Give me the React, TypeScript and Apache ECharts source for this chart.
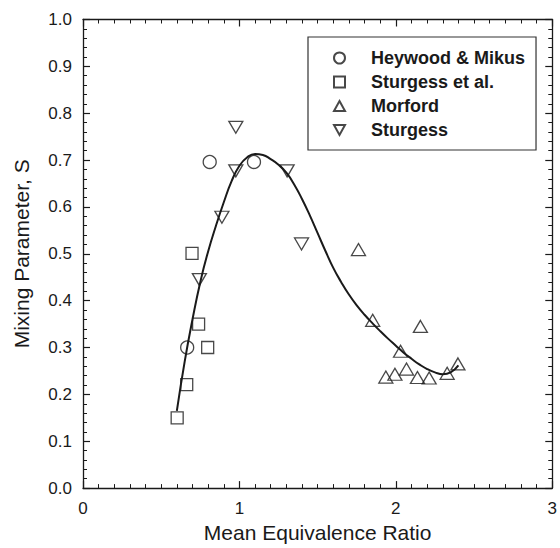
import React, { useEffect, useRef } from "react";
import * as echarts from "echarts";

const heywoodX = [0.666, 0.81, 1.093];
const heywoodY = [0.30, 0.696, 0.696];

const sturgessEtAlX = [0.602, 0.663, 0.739, 0.797, 0.697];
const sturgessEtAlY = [0.150, 0.221, 0.350, 0.300, 0.501];

const morfordX = [1.761, 1.852, 2.157, 2.03, 1.936, 1.994, 2.068, 2.138, 2.213, 2.328, 2.397];
const morfordY = [0.509, 0.358, 0.345, 0.292, 0.237, 0.243, 0.254, 0.236, 0.235, 0.245, 0.265];

const sturgessX = [0.977, 0.977, 0.888, 0.744, 1.305, 1.397];
const sturgessY = [0.770, 0.677, 0.578, 0.445, 0.677, 0.521];

const curveX = [0.60, 0.65, 0.70, 0.75, 0.80, 0.85, 0.90, 0.95, 1.00, 1.05, 1.10, 1.15, 1.20, 1.25, 1.30, 1.35, 1.40, 1.45, 1.50, 1.55, 1.60, 1.65, 1.70, 1.75, 1.80, 1.85, 1.90, 1.95, 2.00, 2.05, 2.10, 2.15, 2.20, 2.25, 2.30, 2.35, 2.40];
const curveY = [0.165, 0.27, 0.36, 0.44, 0.505, 0.56, 0.61, 0.655, 0.688, 0.706, 0.713, 0.711, 0.702, 0.690, 0.673, 0.648, 0.617, 0.582, 0.544, 0.506, 0.470, 0.440, 0.413, 0.390, 0.370, 0.352, 0.335, 0.319, 0.304, 0.289, 0.276, 0.264, 0.254, 0.247, 0.243, 0.247, 0.262];

const xTicks = ["0", "1", "2", "3"];
const seriesNames = ["Heywood & Mikus", "Sturgess et al.", "Morford", "Sturgess"];

const zip = (xs: number[], ys: number[]) => xs.map((x, i) => [x, ys[i]]);

const FONT = "Liberation Sans, Arial, sans-serif";
const INK = "#1a1a1a";

export default function App() {
  const ref = useRef<HTMLDivElement>(null);
  useEffect(() => {
    if (!ref.current) return;
    const chart = echarts.init(ref.current, undefined, { renderer: "svg" });
    const markerStyle = {
      color: "rgba(255,255,255,0)",
      borderColor: INK,
      borderWidth: 1.3,
    };
    const axisLine = { show: true, onZero: false, lineStyle: { color: INK, width: 1.3 } };
    const xBase = {
      type: "value" as const,
      min: 0,
      max: 3,
      interval: 1,
      axisLine,
      axisTick: { show: true, inside: true, length: 7, lineStyle: { color: INK, width: 1.2 } },
      minorTick: { show: true, splitNumber: 10, length: 4, lineStyle: { color: INK, width: 1 } },
      splitLine: { show: false },
    };
    const yBase = {
      type: "value" as const,
      min: 0,
      max: 1,
      interval: 0.1,
      axisLine,
      axisTick: { show: true, inside: true, length: 7, lineStyle: { color: INK, width: 1.2 } },
      minorTick: { show: true, splitNumber: 5, length: 4, lineStyle: { color: INK, width: 1 } },
      splitLine: { show: false },
    };
    chart.setOption({
      animation: false,
      backgroundColor: "#fff",
      grid: { left: 83, right: 5, top: 19.5, bottom: 58 },
      xAxis: [
        {
          ...xBase,
          position: "bottom",
          name: "Mean Equivalence Ratio",
          nameLocation: "middle",
          nameGap: 32,
          nameTextStyle: { fontFamily: FONT, fontSize: 21, color: INK },
          axisLabel: {
            fontFamily: FONT,
            fontSize: 17,
            color: INK,
            margin: 12,
            formatter: (v: number) => xTicks[Math.round(v)] ?? "",
          },
        },
        { ...xBase, position: "top", axisLabel: { show: false } },
      ],
      yAxis: [
        {
          ...yBase,
          position: "left",
          name: "Mixing Parameter, S",
          nameLocation: "middle",
          nameGap: 51,
          nameTextStyle: { fontFamily: FONT, fontSize: 21, color: INK },
          axisLabel: {
            fontFamily: FONT,
            fontSize: 17,
            color: INK,
            margin: 11,
            formatter: (v: number) => v.toFixed(1),
          },
        },
        { ...yBase, position: "right", axisLabel: { show: false } },
      ],
      legend: {
        data: seriesNames,
        orient: "vertical",
        left: 308,
        top: 37,
        padding: [12, 11, 11, 25],
        itemGap: 6,
        itemWidth: 11,
        itemHeight: 11,
        borderColor: "#333",
        borderWidth: 1.2,
        textStyle: {
          fontFamily: FONT,
          fontSize: 18,
          fontWeight: "bold",
          color: INK,
          padding: [0, 0, 0, 21],
        },
      },
      series: [
        {
          name: "fit",
          type: "line",
          data: zip(curveX, curveY),
          smooth: true,
          showSymbol: false,
          symbol: "none",
          lineStyle: { color: INK, width: 2 },
          z: 1,
        },
        {
          name: seriesNames[0],
          type: "scatter",
          data: zip(heywoodX, heywoodY),
          symbol: "circle",
          symbolSize: 13,
          itemStyle: markerStyle,
          z: 2,
        },
        {
          name: seriesNames[1],
          type: "scatter",
          data: zip(sturgessEtAlX, sturgessEtAlY),
          symbol: "rect",
          symbolSize: 12,
          itemStyle: markerStyle,
          z: 2,
        },
        {
          name: seriesNames[2],
          type: "scatter",
          data: zip(morfordX, morfordY),
          symbol: "path://M5,0 L10,9 L0,9 Z",
          symbolSize: [14, 12],
          itemStyle: markerStyle,
          z: 2,
        },
        {
          name: seriesNames[3],
          type: "scatter",
          data: zip(sturgessX, sturgessY),
          symbol: "path://M0,0 L10,0 L5,9 Z",
          symbolSize: [14, 12],
          itemStyle: markerStyle,
          z: 2,
        },
      ],
    });
    return () => chart.dispose();
  }, []);
  return <div ref={ref} style={{ width: 560, height: 548, position: "absolute", left: 0, top: 0 }} />;
}
